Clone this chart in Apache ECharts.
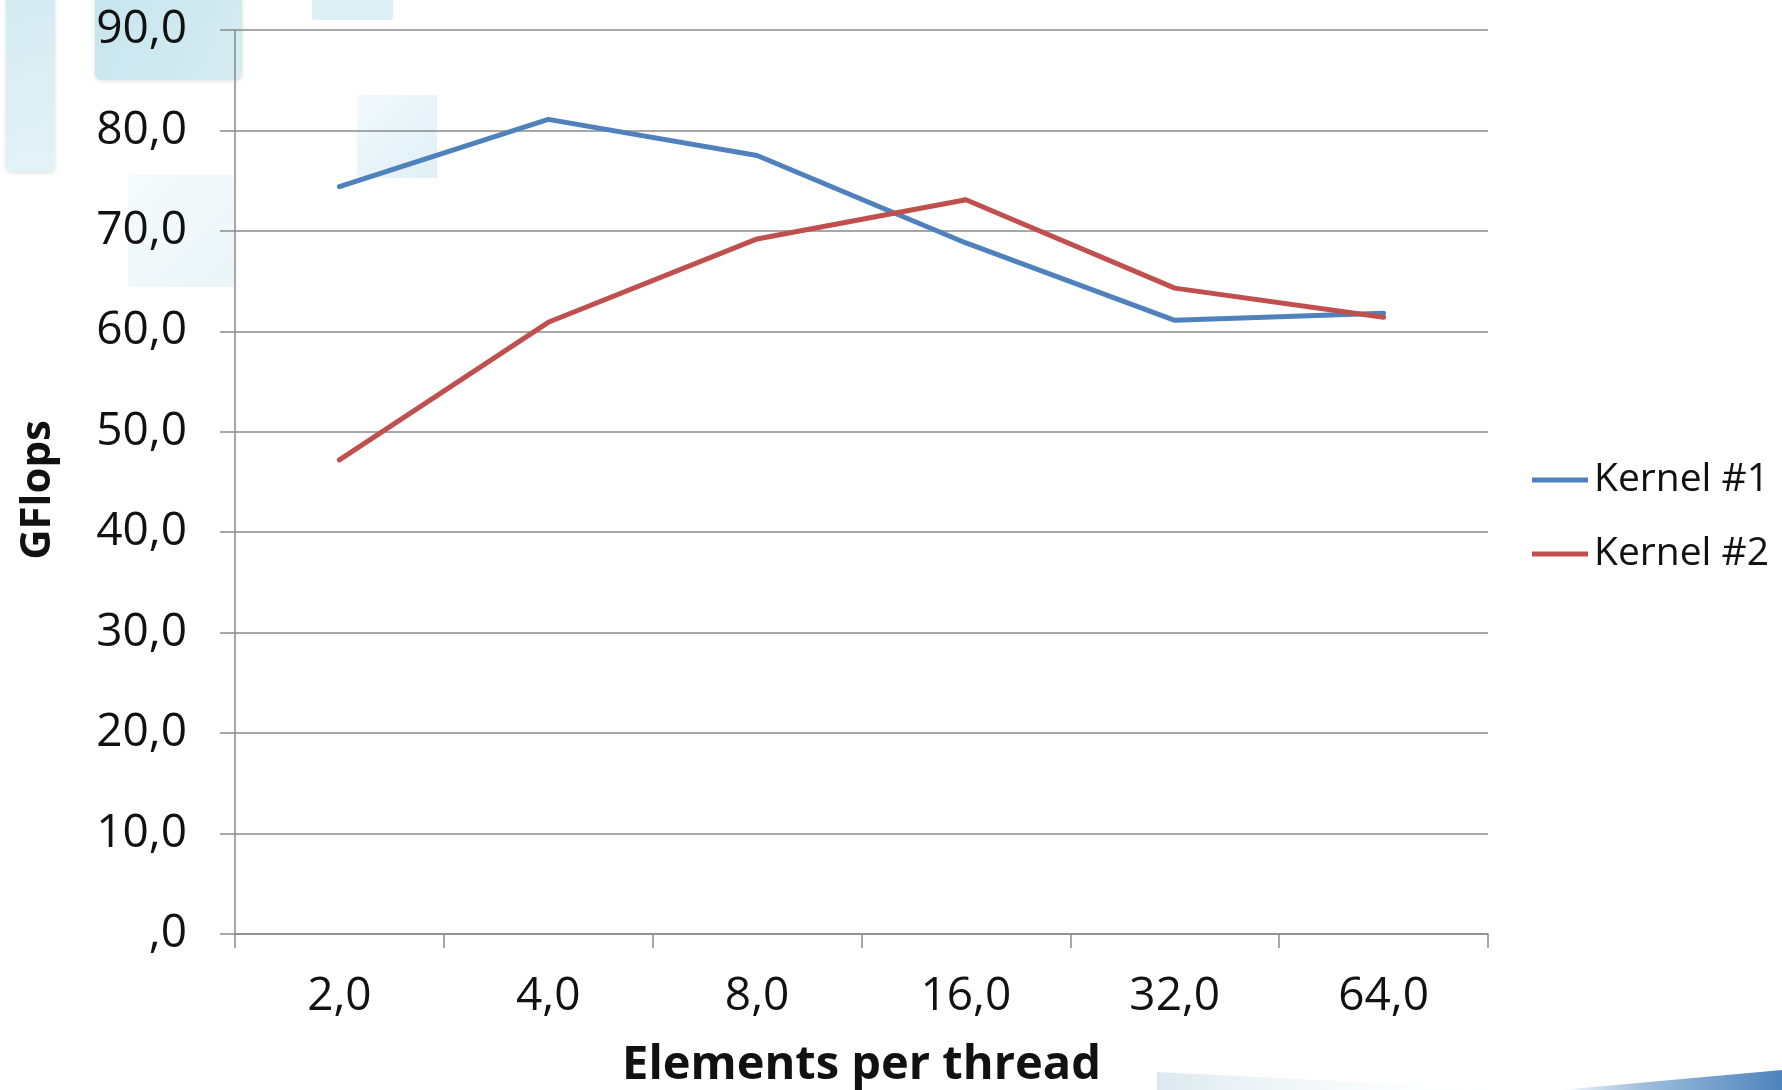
<!DOCTYPE html>
<html>
<head>
<meta charset="utf-8">
<title>GFlops per kernel</title>
<script src="https://cdn.jsdelivr.net/npm/echarts@6/dist/echarts.min.js"></script>
<style>
  html, body { margin: 0; padding: 0; background: #ffffff; }
  #chart { width: 1782px; height: 1090px; }
</style>
</head>
<body>
<div id="chart"></div>
<script>
// Elements processed per thread (x categories)
const categories = ['2,0', '4,0', '8,0', '16,0', '32,0', '64,0'];

// Measured throughput in GFlops
const kernel1 = [74.4, 81.1, 77.5, 68.8, 61.1, 61.8];
const kernel2 = [47.2, 60.9, 69.2, 73.1, 64.3, 61.4];

// Value-axis tick labels (decimal comma format)
const yTickLabels = [',0', '10,0', '20,0', '30,0', '40,0', '50,0', '60,0', '70,0', '80,0', '90,0'];

const seriesNames = ['Kernel #1', 'Kernel #2'];
const seriesColors = ['#4F81BD', '#C0504D'];

const FONT = '"Open Sans", "DejaVu Sans", sans-serif';
const AXIS_GRAY = '#8a8a8a';

const chart = echarts.init(document.getElementById('chart'), null, { renderer: 'canvas' });

// Light slide decorations behind the chart
const decorations = [
  { type: 'rect', shape: { x: 6, y: -12, width: 49, height: 184, r: 6 }, z: -10,
    style: { fill: new echarts.graphic.LinearGradient(0, 0, 1, 1, [
      { offset: 0, color: '#d3ebf2' }, { offset: 1, color: '#e4f2f6' }]),
      shadowBlur: 4, shadowColor: 'rgba(0,0,0,0.12)', shadowOffsetY: 1 } },
  { type: 'rect', shape: { x: 95, y: -12, width: 147, height: 92, r: 6 }, z: -10,
    style: { fill: new echarts.graphic.LinearGradient(0, 0, 1, 1, [
      { offset: 0, color: '#c6e5ee' }, { offset: 1, color: '#d6ecf2' }]),
      shadowBlur: 4, shadowColor: 'rgba(0,0,0,0.12)', shadowOffsetY: 1 } },
  { type: 'rect', shape: { x: 312, y: -6, width: 81, height: 26, r: 3 }, z: -10,
    style: { fill: '#dcf0f5' } },
  { type: 'rect', shape: { x: 357, y: 95, width: 80, height: 83 }, z: -10,
    style: { fill: new echarts.graphic.LinearGradient(0, 0, 1, 1, [
      { offset: 0, color: '#f3fafc' }, { offset: 1, color: '#dfeff5' }]) } },
  { type: 'rect', shape: { x: 128, y: 175, width: 106, height: 112 }, z: -10,
    style: { fill: new echarts.graphic.LinearGradient(0, 0, 1, 1, [
      { offset: 0, color: '#f6fbfc' }, { offset: 1, color: '#eaf5f8' }]) } },
  { type: 'polygon', shape: { points: [[1157, 1072], [1157, 1090], [1520, 1090]] }, z: -10,
    style: { fill: new echarts.graphic.LinearGradient(0, 0, 1, 0, [
      { offset: 0, color: '#dce9ee' }, { offset: 1, color: 'rgba(255,255,255,0)' }]) } },
  { type: 'polygon', shape: { points: [[1560, 1090], [1782, 1070], [1782, 1090]] }, z: -10,
    style: { fill: new echarts.graphic.LinearGradient(0, 0, 1, 0, [
      { offset: 0, color: 'rgba(91,142,196,0)' }, { offset: 0.5, color: '#8db3d6' }, { offset: 1, color: '#4f83bb' }]) } }
];

const option = {
  backgroundColor: '#ffffff',
  animation: false,
  color: seriesColors,
  graphic: decorations,
  grid: { left: 235, right: 294, top: 30, bottom: 156, containLabel: false, outerBoundsMode: 'none' },
  legend: {
    orient: 'vertical',
    left: 1527,
    top: 455,
    itemWidth: 56,
    itemHeight: 5,
    itemGap: 34,
    icon: 'rect',
    data: seriesNames,
    textStyle: { fontFamily: FONT, fontSize: 39, lineHeight: 40, color: '#111111', padding: [0, 0, 0, 1] }
  },
  xAxis: {
    type: 'category',
    data: categories,
    boundaryGap: true,
    name: 'Elements per thread',
    nameLocation: 'middle',
    nameGap: 108,
    nameTextStyle: { fontFamily: FONT, fontSize: 47, fontWeight: 'bold', color: '#111111' },
    axisLine: { show: true, lineStyle: { color: AXIS_GRAY, width: 1.5 } },
    axisTick: { show: true, alignWithLabel: false, length: 14, lineStyle: { color: AXIS_GRAY, width: 1.5 } },
    axisLabel: { fontFamily: FONT, fontSize: 46, color: '#111111', margin: 40, interval: 0 },
    splitLine: { show: false }
  },
  yAxis: {
    type: 'value',
    min: 0,
    max: 90,
    interval: 10,
    name: 'GFlops',
    nameLocation: 'middle',
    nameRotate: 90,
    nameGap: 176,
    nameTextStyle: { fontFamily: FONT, fontSize: 42, fontWeight: 'bold', color: '#111111', padding: [0, 16, 0, 0] },
    axisLine: { show: true, lineStyle: { color: AXIS_GRAY, width: 1.5 } },
    axisTick: { show: true, length: 15, lineStyle: { color: AXIS_GRAY, width: 1.5 } },
    axisLabel: {
      fontFamily: FONT, fontSize: 46, color: '#111111', margin: 48,
      formatter: (v) => yTickLabels[Math.round(v / 10)]
    },
    splitLine: { show: true, lineStyle: { color: AXIS_GRAY, width: 1.5 } }
  },
  series: [
    {
      name: seriesNames[0], type: 'line', data: kernel1,
      symbol: 'none', smooth: false,
      lineStyle: { width: 5, color: seriesColors[0], cap: 'round', join: 'round' },
      itemStyle: { color: seriesColors[0] }
    },
    {
      name: seriesNames[1], type: 'line', data: kernel2,
      symbol: 'none', smooth: false,
      lineStyle: { width: 5, color: seriesColors[1], cap: 'round', join: 'round' },
      itemStyle: { color: seriesColors[1] }
    }
  ]
};

chart.setOption(option);
</script>
</body>
</html>
